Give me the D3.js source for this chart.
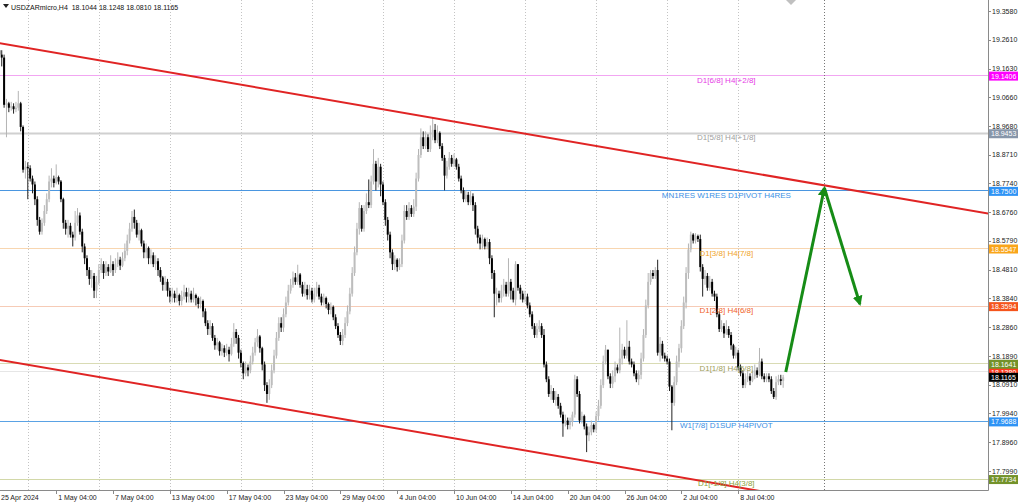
<!DOCTYPE html>
<html><head><meta charset="utf-8">
<script src="https://cdnjs.cloudflare.com/ajax/libs/d3/7.8.5/d3.min.js"></script>
<style>html,body{margin:0;padding:0;background:#fff;overflow:hidden}svg{display:block}</style>
</head><body><svg id="chart" width="1024" height="503"></svg>
<script>
// ---------------- DATA ----------------
const symbolTitle = "USDZARmicro,H4";
const headerOHLC = ["18.1044", "18.1248", "18.0810", "18.1165"];
const firstOpen = 19.200;
const closes = [
19.225,19.210,19.200,19.040,19.045,19.030,19.035,19.025,19.030,19.045,
18.965,18.820,18.830,18.825,18.790,18.770,18.720,18.650,18.610,18.640,
18.680,18.720,18.780,18.790,18.775,18.795,18.780,18.720,18.640,18.620,
18.630,18.600,18.590,18.640,18.665,18.610,18.560,18.520,18.480,18.450,
18.460,18.410,18.440,18.480,18.500,18.470,18.490,18.475,18.500,18.480,
18.500,18.515,18.495,18.520,18.545,18.580,18.620,18.660,18.640,18.600,
18.615,18.570,18.540,18.555,18.520,18.530,18.500,18.510,18.480,18.455,
18.430,18.440,18.410,18.390,18.400,18.385,18.395,18.375,18.390,18.405,
18.390,18.400,18.380,18.395,18.385,18.365,18.375,18.340,18.300,18.280,
18.290,18.250,18.225,18.235,18.205,18.215,18.200,18.210,18.195,18.230,
18.270,18.250,18.200,18.165,18.130,18.150,18.140,18.170,18.200,18.235,
18.255,18.215,18.160,18.090,18.060,18.090,18.140,18.190,18.250,18.300,
18.285,18.330,18.370,18.410,18.430,18.455,18.440,18.465,18.430,18.400,
18.415,18.395,18.410,18.380,18.400,18.420,18.390,18.370,18.385,18.365,
18.345,18.355,18.320,18.290,18.260,18.240,18.260,18.300,18.340,18.400,
18.470,18.540,18.620,18.690,18.620,18.680,18.710,18.700,18.780,18.840,
18.780,18.830,18.770,18.710,18.650,18.600,18.540,18.500,18.515,18.490,
18.500,18.580,18.680,18.660,18.690,18.670,18.695,18.790,18.870,18.930,
18.900,18.930,18.890,18.930,18.955,18.920,18.945,18.900,18.860,18.800,
18.830,18.860,18.840,18.855,18.830,18.790,18.750,18.720,18.735,18.710,
18.730,18.700,18.620,18.590,18.570,18.585,18.560,18.575,18.520,18.470,
18.400,18.400,18.385,18.410,18.430,18.400,18.440,18.410,18.380,18.500,
18.420,18.400,18.380,18.390,18.360,18.330,18.290,18.260,18.280,18.290,
18.260,18.160,18.110,18.060,18.070,18.040,18.050,18.020,17.990,17.960,
17.970,17.955,17.965,17.990,18.110,18.060,17.970,17.985,17.950,17.920,
17.930,17.955,17.940,17.985,18.020,18.090,18.170,18.210,18.120,18.095,
18.120,18.150,18.140,18.180,18.210,18.190,18.220,18.170,18.160,18.130,
18.110,18.125,18.180,18.260,18.360,18.440,18.470,18.460,18.480,18.200,
18.230,18.190,18.180,18.170,18.085,18.030,18.100,18.170,18.215,18.290,
18.370,18.470,18.550,18.600,18.580,18.595,18.585,18.490,18.450,18.460,
18.420,18.440,18.400,18.390,18.330,18.280,18.290,18.265,18.280,18.260,
18.225,18.190,18.200,18.150,18.130,18.090,18.110,18.120,18.105,18.120,
18.140,18.125,18.170,18.120,18.110,18.120,18.110,18.070,18.050,18.100,
18.110,18.1044,18.1165];
const highs = [
19.248,19.235,19.225,19.210,19.060,19.050,19.050,19.045,19.050,19.087,
19.050,18.970,18.850,18.845,18.835,18.800,18.780,18.730,18.660,18.655,
18.700,18.740,18.800,18.825,18.800,18.838,18.800,18.785,18.725,18.650,
18.650,18.640,18.610,18.680,18.690,18.675,18.620,18.570,18.530,18.490,
18.480,18.470,18.460,18.500,18.520,18.510,18.510,18.500,18.530,18.510,
18.520,18.540,18.525,18.540,18.570,18.600,18.640,18.680,18.685,18.650,
18.640,18.620,18.580,18.570,18.560,18.550,18.540,18.530,18.520,18.490,
18.460,18.460,18.450,18.420,18.420,18.410,18.420,18.400,18.410,18.430,
18.420,18.420,18.410,18.420,18.400,18.390,18.390,18.380,18.350,18.310,
18.310,18.300,18.260,18.250,18.240,18.230,18.225,18.230,18.220,18.250,
18.300,18.280,18.260,18.210,18.170,18.170,18.160,18.190,18.220,18.250,
18.280,18.260,18.220,18.170,18.100,18.110,18.160,18.210,18.270,18.320,
18.320,18.350,18.390,18.430,18.450,18.475,18.470,18.498,18.470,18.440,
18.440,18.430,18.430,18.420,18.420,18.440,18.430,18.400,18.400,18.390,
18.370,18.370,18.360,18.330,18.300,18.270,18.280,18.320,18.360,18.420,
18.490,18.560,18.640,18.710,18.700,18.700,18.740,18.787,18.800,18.890,
18.850,18.860,18.840,18.780,18.720,18.660,18.610,18.550,18.530,18.520,
18.520,18.600,18.700,18.700,18.710,18.700,18.720,18.810,18.890,18.960,
18.950,18.950,18.940,18.970,18.998,18.975,18.970,18.950,18.910,18.870,
18.850,18.880,18.870,18.875,18.860,18.840,18.800,18.760,18.750,18.745,
18.750,18.740,18.710,18.630,18.600,18.600,18.590,18.590,18.585,18.530,
18.480,18.420,18.410,18.430,18.450,18.440,18.520,18.450,18.420,18.510,
18.500,18.430,18.410,18.410,18.400,18.370,18.340,18.300,18.300,18.310,
18.300,18.280,18.170,18.120,18.090,18.080,18.070,18.060,18.030,18.000,
17.990,17.980,17.980,18.000,18.125,18.120,18.070,18.000,17.990,17.960,
17.950,17.970,17.960,18.000,18.040,18.110,18.190,18.226,18.210,18.130,
18.140,18.170,18.160,18.285,18.230,18.220,18.310,18.240,18.180,18.170,
18.140,18.140,18.200,18.280,18.380,18.470,18.480,18.480,18.490,18.515,
18.253,18.240,18.200,18.190,18.180,18.090,18.120,18.190,18.230,18.310,
18.390,18.490,18.570,18.610,18.605,18.605,18.600,18.600,18.500,18.480,
18.470,18.460,18.450,18.410,18.400,18.340,18.310,18.300,18.310,18.290,
18.270,18.230,18.220,18.210,18.160,18.140,18.130,18.140,18.130,18.140,
18.160,18.150,18.216,18.180,18.130,18.130,18.130,18.120,18.080,18.120,
18.125,18.125,18.1248];
const lows = [
19.195,19.180,19.170,19.030,18.930,19.015,19.020,19.010,19.015,19.020,
18.950,18.810,18.790,18.720,18.780,18.740,18.700,18.630,18.600,18.600,
18.630,18.670,18.710,18.760,18.760,18.770,18.770,18.710,18.620,18.600,
18.590,18.590,18.560,18.580,18.630,18.600,18.540,18.500,18.460,18.430,
18.420,18.385,18.385,18.430,18.470,18.450,18.460,18.460,18.470,18.460,
18.470,18.490,18.480,18.490,18.510,18.530,18.570,18.610,18.620,18.590,
18.580,18.560,18.520,18.520,18.500,18.500,18.490,18.480,18.460,18.440,
18.410,18.410,18.390,18.370,18.370,18.370,18.370,18.360,18.360,18.380,
18.370,18.370,18.370,18.370,18.360,18.350,18.350,18.320,18.290,18.260,
18.260,18.240,18.210,18.210,18.190,18.190,18.185,18.190,18.170,18.190,
18.220,18.230,18.180,18.150,18.110,18.120,18.120,18.130,18.160,18.190,
18.220,18.200,18.140,18.070,18.030,18.040,18.080,18.130,18.180,18.240,
18.270,18.270,18.320,18.360,18.400,18.420,18.430,18.430,18.420,18.390,
18.390,18.380,18.380,18.370,18.370,18.390,18.380,18.360,18.360,18.350,
18.330,18.330,18.310,18.280,18.250,18.226,18.225,18.250,18.290,18.330,
18.390,18.460,18.530,18.600,18.610,18.610,18.670,18.690,18.690,18.770,
18.750,18.760,18.730,18.700,18.630,18.580,18.520,18.480,18.480,18.475,
18.480,18.490,18.570,18.650,18.650,18.660,18.660,18.680,18.780,18.860,
18.890,18.890,18.880,18.880,18.920,18.910,18.910,18.890,18.850,18.750,
18.790,18.820,18.830,18.830,18.820,18.780,18.740,18.710,18.710,18.700,
18.700,18.680,18.600,18.570,18.550,18.550,18.550,18.550,18.500,18.450,
18.320,18.360,18.370,18.370,18.390,18.390,18.390,18.380,18.370,18.360,
18.410,18.380,18.370,18.370,18.350,18.320,18.280,18.250,18.250,18.270,
18.250,18.150,18.100,18.050,18.040,18.030,18.020,18.010,17.980,17.915,
17.950,17.940,17.940,17.950,17.980,18.050,17.960,17.960,17.940,17.863,
17.900,17.920,17.930,17.930,17.970,18.010,18.080,18.160,18.110,18.080,
18.080,18.100,18.130,18.130,18.160,18.180,18.180,18.160,18.150,18.120,
18.100,18.090,18.110,18.170,18.250,18.350,18.430,18.450,18.450,18.190,
18.170,18.180,18.170,18.160,18.070,17.937,18.020,18.090,18.150,18.200,
18.280,18.350,18.450,18.540,18.570,18.570,18.575,18.475,18.390,18.430,
18.410,18.410,18.390,18.375,18.320,18.270,18.270,18.250,18.260,18.250,
18.210,18.180,18.180,18.140,18.120,18.080,18.080,18.100,18.090,18.100,
18.110,18.115,18.120,18.110,18.100,18.100,18.100,18.060,18.043,18.040,
18.090,18.090,18.0810];

const priceTicks = [19.3580,19.2610,19.1630,19.0660,18.9680,18.8710,18.7740,18.6760,18.5790,
                    18.4810,18.3840,18.2860,18.1890,18.0910,17.9940,17.8960,17.7990];
const timeLabels = ["25 Apr 2024","1 May 04:00","7 May 04:00","13 May 04:00","17 May 04:00",
  "23 May 04:00","29 May 04:00","4 Jun 04:00","10 Jun 04:00","14 Jun 04:00","20 Jun 04:00",
  "26 Jun 04:00","2 Jul 04:00","8 Jul 04:00"];
const timeLabelBars = [0,25,49,73,97,121,145,169,193,217,241,265,289,313];
const gridBars = [13,43,73,103,133,163,193,223,253,283,313];

const levelPrices = [19.1406,18.9453,18.7500,18.5547,18.3594,18.1641,18.1380,17.9688,17.7734];
const levelTexts = ["D1[6/8] H4[+2/8]","D1[5/8] H4[+1/8]","MN1RES W1RES D1PIVOT H4RES",
  "D1[3/8] H4[7/8]","D1[2/8] H4[6/8]","D1[1/8] H4[5/8]","","W1[7/8] D1SUP H4PIVOT","D1[-1/8] H4[3/8]"];
const currentPrice = 18.1165;

const channelUpper = [[0,19.2506],[420,18.6692]];
const channelLower = [[0,18.1771],[420,17.5957]];
const forecastUp = [[333.1,18.1346],[349.4,18.758]];
const forecastDown = [[349.4,18.758],[364.4,18.365]];
const markerBar = 349.2;
const levelLabelBar = 308;

// ---------------- STYLES ----------------
const levelLineColors = ["#f2a6f2","#d0d0d0","#4a96e0","#f8d6b0","#f6cbb6","#d9dbb4","#e6e6e6","#5aa2e4","#d2d8a8"];
const levelLineWidths = [1,2,1,1,1,1,1,1,1];
const levelTextColors = ["#e63ce6","#a0a0a0","#3b8fe4","#f0a428","#f0622a","#a0a05a","#000","#3b8fe4","#8aa23c"];
const levelTagColors  = ["#ff00ff","#8796aa","#2e93f5","#f9a51a","#f5541c","#73922a","#ff3b1f","#2e93f5","#73922a"];

// ---------------- CHART ----------------
const W = 1024, H = 503, plotR = 988, plotB = 490;
const svg = d3.select("#chart");
const font = "'Liberation Sans', Arial, sans-serif";

const x = d3.scaleLinear().domain([0, 418.5]).range([-3, plotR]);
const y = d3.scaleLinear().domain([17.799, 19.163]).range([471, 68.5]);

svg.append("rect").attr("width", W).attr("height", H).attr("fill", "#fff");
svg.append("defs").append("clipPath").attr("id", "plot")
  .append("rect").attr("x", 0).attr("y", 0).attr("width", plotR).attr("height", plotB);

const plot = svg.append("g").attr("clip-path", "url(#plot)");

// vertical grid
plot.selectAll("line.grid").data(gridBars).join("line")
  .attr("x1", d => Math.round(x(d)) + 0.5).attr("x2", d => Math.round(x(d)) + 0.5)
  .attr("y1", 0).attr("y2", plotB)
  .attr("stroke", "#c4c4c4").attr("stroke-width", 1).attr("stroke-dasharray", "1,2");

// level lines
plot.selectAll("line.level").data(levelPrices).join("line")
  .attr("x1", 0).attr("x2", plotR)
  .attr("y1", d => Math.round(y(d)) + 0.5).attr("y2", d => Math.round(y(d)) + 0.5)
  .attr("stroke", (d, i) => levelLineColors[i]).attr("stroke-width", (d, i) => levelLineWidths[i]);

// candles
const bars = closes.map((c, i) => {
  const o = i === 0 ? firstOpen : closes[i - 1];
  return { i, o, c, h: Math.max(highs[i], o, c), l: Math.min(lows[i], o, c) };
});
const bw = 2;
const cg = plot.append("g");
cg.selectAll("line.wick").data(bars).join("line")
  .attr("x1", d => x(d.i)).attr("x2", d => x(d.i))
  .attr("y1", d => y(d.h)).attr("y2", d => y(d.l))
  .attr("stroke", d => d.c >= d.o ? "#b4b4b4" : "#222")
  .attr("stroke-width", 1);
cg.selectAll("rect.body").data(bars).join("rect")
  .attr("x", d => x(d.i) - bw / 2).attr("width", bw)
  .attr("y", d => y(Math.max(d.o, d.c)))
  .attr("height", d => Math.max(1, Math.abs(y(d.o) - y(d.c))))
  .attr("fill", d => d.c >= d.o ? "#bdbdbd" : "#000");

// channel lines
const lineGen = d3.line().x(d => x(d[0])).y(d => y(d[1]));
[channelUpper, channelLower].forEach(ch => {
  plot.append("path").attr("d", lineGen(ch)).attr("fill", "none")
    .attr("stroke", "#e02424").attr("stroke-width", 2);
});

// vertical marker line
plot.append("line").attr("x1", Math.round(x(markerBar)) + 0.5).attr("x2", Math.round(x(markerBar)) + 0.5)
  .attr("y1", 0).attr("y2", plotB)
  .attr("stroke", "#777").attr("stroke-width", 1).attr("stroke-dasharray", "1,2");

// forecast arrows
const defs = svg.select("defs");
defs.append("marker").attr("id", "ah").attr("viewBox", "0 0 10 10")
  .attr("refX", 8).attr("refY", 5).attr("markerWidth", 10).attr("markerHeight", 10)
  .attr("markerUnits", "userSpaceOnUse").attr("orient", "auto")
  .append("path").attr("d", "M0,0 L10,5 L0,10 Z").attr("fill", "#168c16");
[forecastUp, forecastDown].forEach(seg => {
  plot.append("path").attr("d", lineGen(seg)).attr("fill", "none")
    .attr("stroke", "#168c16").attr("stroke-width", 3).attr("marker-end", "url(#ah)");
});

// level labels
plot.selectAll("text.lvl").data(levelPrices).join("text")
  .attr("x", x(levelLabelBar)).attr("y", d => y(d) + 7.5)
  .attr("text-anchor", "middle")
  .attr("font-family", font).attr("font-size", 8)
  .attr("fill", (d, i) => levelTextColors[i])
  .text((d, i) => levelTexts[i]);

// axes lines
svg.append("line").attr("x1", plotR + 0.5).attr("x2", plotR + 0.5).attr("y1", 0).attr("y2", plotB + 0.5)
  .attr("stroke", "#8a8a8a").attr("stroke-width", 1);
svg.append("line").attr("x1", 0).attr("x2", plotR + 0.5).attr("y1", plotB + 0.5).attr("y2", plotB + 0.5)
  .attr("stroke", "#8a8a8a").attr("stroke-width", 1);

// price axis
const fmt = d3.format(".4f");
svg.selectAll("line.pt").data(priceTicks).join("line")
  .attr("x1", plotR).attr("x2", plotR + 3)
  .attr("y1", d => Math.round(y(d)) + 0.5).attr("y2", d => Math.round(y(d)) + 0.5)
  .attr("stroke", "#8a8a8a");
svg.selectAll("text.pt").data(priceTicks).join("text")
  .attr("x", 992).attr("y", d => y(d) + 2.6)
  .attr("font-family", font).attr("font-size", 7).attr("fill", "#222")
  .text(d => fmt(d));

// time axis
svg.selectAll("line.tt").data(timeLabelBars).join("line")
  .attr("x1", d => Math.round(x(d)) + 0.5).attr("x2", d => Math.round(x(d)) + 0.5)
  .attr("y1", plotB).attr("y2", plotB + 4).attr("stroke", "#8a8a8a");
svg.selectAll("text.tt").data(timeLabels).join("text")
  .attr("x", (d, i) => Math.max(1, x(timeLabelBars[i]) + 2)).attr("y", 500)
  .attr("font-family", font).attr("font-size", 7).attr("fill", "#222")
  .text(d => d);

// price tags
const tagOrder = [6, 0, 1, 2, 3, 4, 5, 7, 8];
tagOrder.forEach(i => {
  const g = svg.append("g");
  const cy = y(levelPrices[i]) + 1;
  g.append("rect").attr("x", 989).attr("y", cy - 4.5).attr("width", 29).attr("height", 9)
    .attr("fill", levelTagColors[i]);
  g.append("text").attr("x", 991).attr("y", cy + 2.6)
    .attr("font-family", font).attr("font-size", 7).attr("fill", "#fff")
    .text(fmt(levelPrices[i]));
});
const cur = svg.append("g");
cur.append("rect").attr("x", 989).attr("y", y(currentPrice) - 4.5).attr("width", 29).attr("height", 9).attr("fill", "#000");
cur.append("text").attr("x", 991).attr("y", y(currentPrice) + 2.6)
  .attr("font-family", font).attr("font-size", 7).attr("fill", "#fff").text(fmt(currentPrice));

// header
svg.append("path").attr("d", "M3,4 L9,4 L6,8 Z").attr("fill", "#222");
svg.append("text").attr("x", 11).attr("y", 10)
  .attr("font-family", font).attr("font-size", 7).attr("fill", "#111")
  .attr("xml:space", "preserve")
  .text(symbolTitle + "  " + headerOHLC.join(" "));

// chart shift marker
svg.append("path").attr("d", "M786,0 L796,0 L791,5 Z").attr("fill", "#c0c0c0");
</script>
</body></html>
